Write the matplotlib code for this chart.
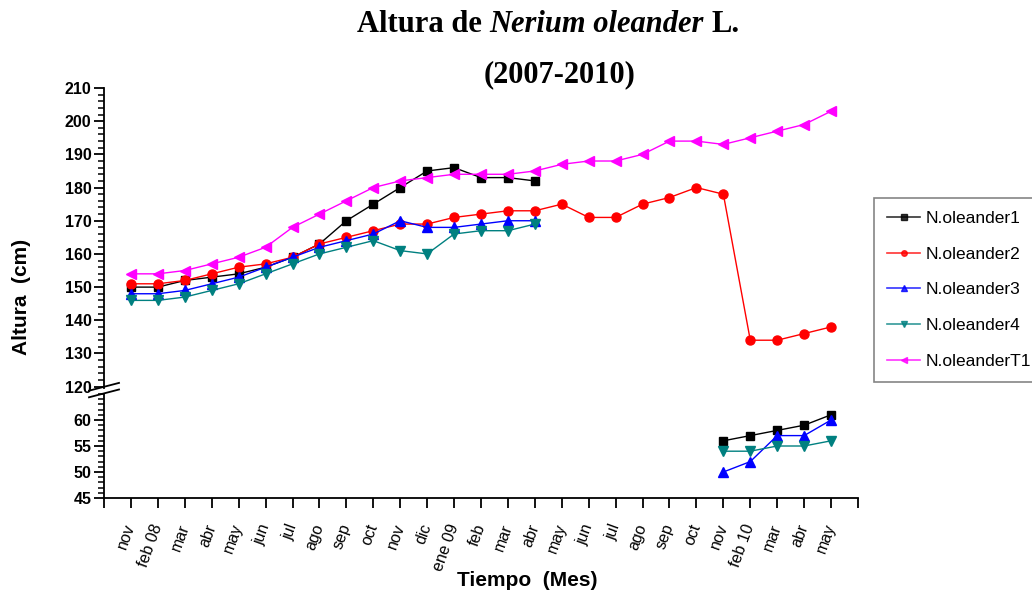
import matplotlib
matplotlib.use("Agg")
import matplotlib.pyplot as plt
import numpy as np
from matplotlib.lines import Line2D
from matplotlib.ticker import MultipleLocator

plt.rcParams['font.family'] = ['Liberation Sans', 'DejaVu Sans']

# months of measurement, nov 2007 .. may 2010
meses = ["nov", "feb 08", "mar", "abr", "may", "jun", "jul", "ago", "sep", "oct",
         "nov", "dic", "ene 09", "feb", "mar", "abr", "may", "jun", "jul", "ago",
         "sep", "oct", "nov", "feb 10", "mar", "abr", "may"]

N = None
oleander1 = [150, 150, 152, 153, 154, 156, 159, 163, 170, 175, 180, 185, 186, 183, 183, 182,
             N, N, N, N, N, N, 56, 57, 58, 59, 61]
oleander2 = [151, 151, 152, 154, 156, 157, 159, 163, 165, 167, 169, 169, 171, 172, 173, 173,
             175, 171, 171, 175, 177, 180, 178, 134, 134, 136, 138]
oleander3 = [148, 148, 149, 151, 153, 156, 159, 162, 164, 166, 170, 168, 168, 169, 170, 170,
             N, N, N, N, N, N, 50, 52, 57, 57, 60]
oleander4 = [146, 146, 147, 149, 151, 154, 157, 160, 162, 164, 161, 160, 166, 167, 167, 169,
             N, N, N, N, N, N, 54, 54, 55, 55, 56]
oleanderT1 = [154, 154, 155, 157, 159, 162, 168, 172, 176, 180, 182, 183, 184, 184, 184, 185,
              187, 188, 188, 190, 194, 194, 193, 195, 197, 199, 203]

series = [
    ("N.oleander1", oleander1, "black", "s", 6),
    ("N.oleander2", oleander2, "red", "o", 6.5),
    ("N.oleander3", oleander3, "blue", "^", 7),
    ("N.oleander4", oleander4, "#008080", "v", 7),
    ("N.oleanderT1", oleanderT1, "#ff00ff", "<", 7),
]

W, H = 1032, 594
fig = plt.figure(figsize=(W / 100, H / 100), dpi=100)

left = 104 / W
width = 754 / W
ax_up = fig.add_axes([left, 1 - 388 / H, width, 300 / H])
ax_lo = fig.add_axes([left, 1 - 498 / H, width, 104 / H])

x = np.arange(len(meses))
handles = []
for name, vals, color, mk, ms in series:
    v = np.array([np.nan if a is None else a for a in vals], dtype=float)
    hi = np.where(v >= 100, v, np.nan)
    lo = np.where(v < 100, v, np.nan)
    ax_up.plot(x, hi, color=color, marker=mk, ms=ms, lw=1)
    if not np.all(np.isnan(lo)):
        ax_lo.plot(x, lo, color=color, marker=mk, ms=ms, lw=1)
    handles.append(Line2D([], [], color=color, marker=mk, ms=4, lw=1.2, alpha=0.8,
                          label=name))

ax_up.set_ylim(119.6, 210)
ax_lo.set_ylim(45, 65)
for ax in (ax_up, ax_lo):
    ax.set_xlim(-1, 27)
    ax.spines['top'].set_visible(False)
    ax.spines['right'].set_visible(False)
    ax.spines['left'].set_linewidth(1.3)
    ax.spines['bottom'].set_linewidth(1.3)
    ax.tick_params(axis='y', which='major', direction='out', length=7, width=1.3,
                   labelsize=11.5, pad=2)
    ax.tick_params(axis='y', which='minor', direction='out', length=4.5, width=1.1)

ax_up.spines['bottom'].set_visible(False)
ax_up.set_xticks([])
ax_up.yaxis.set_minor_locator(MultipleLocator(2))
ax_up.set_yticks(np.arange(120, 211, 10))
ax_up.set_yticklabels([str(t) for t in range(120, 211, 10)], fontweight='bold')

ax_lo.set_yticks([45, 50, 55, 60])
ax_lo.set_yticklabels(["45", "50", "55", "60"], fontweight='bold')
ax_lo.yaxis.set_minor_locator(MultipleLocator(1))
ax_lo.set_xticks(np.arange(-1, 28))
ax_lo.set_xticklabels([""] + meses + [""], rotation=70, ha='right', va='center',
                      rotation_mode='anchor', fontsize=11.5)
ax_lo.tick_params(axis='x', direction='out', length=7, width=1.3, pad=12)

# break marks on the y axis
for y0 in (390.7, 397.3):
    fig.add_artist(Line2D([89 / W, 119 / W], [1 - y0 / H, 1 - (y0 - 7.8) / H],
                          color='black', lw=1.3, transform=fig.transFigure))

fig.text(22 / W, 1 - 297 / H, "Altura  (cm)", rotation=90, ha='center', va='center',
         fontsize=15, fontweight='bold')
fig.text(527 / W, 1 - 581 / H, "Tiempo  (Mes)", ha='center', va='center',
         fontsize=15, fontweight='bold')

leg = fig.legend(handles=handles, loc='upper left', bbox_to_anchor=(874 / W, 1 - 198 / H),
                 fontsize=12.5, frameon=True, fancybox=False, edgecolor='#666666',
                 handlelength=1.9, handletextpad=0.3, labelspacing=1.18,
                 borderpad=0.75, borderaxespad=0)
leg.get_frame().set_linewidth(1.2)

# title: bold serif with the species name in italics
serif = ['Liberation Serif', 'DejaVu Serif']
fig.canvas.draw()
rend = fig.canvas.get_renderer()


def measure(s, style):
    t = fig.text(0, 0, s, fontsize=22, fontweight='bold', style=style, family=serif)
    w = t.get_window_extent(rend).width
    t.remove()
    return w


space = measure("a a", 'normal') - measure("aa", 'normal')
pieces = [("Altura de", 'normal'), ("Nerium oleander", 'italic'), ("L.", 'normal')]
widths = [measure(s, st) for s, st in pieces]
total = sum(widths) + space * (len(pieces) - 1)
xpos = 548 - total / 2
for (s, st), w in zip(pieces, widths):
    fig.text(xpos / W, 1 - 25 / H, s, fontsize=22, fontweight='bold', style=st,
             family=serif, ha='left', va='center')
    xpos += w + space
fig.text(560 / W, 1 - 75 / H, "(2007-2010)", fontsize=22, fontweight='bold',
         family=serif, ha='center', va='center')

fig.savefig("out.png", dpi=100)
